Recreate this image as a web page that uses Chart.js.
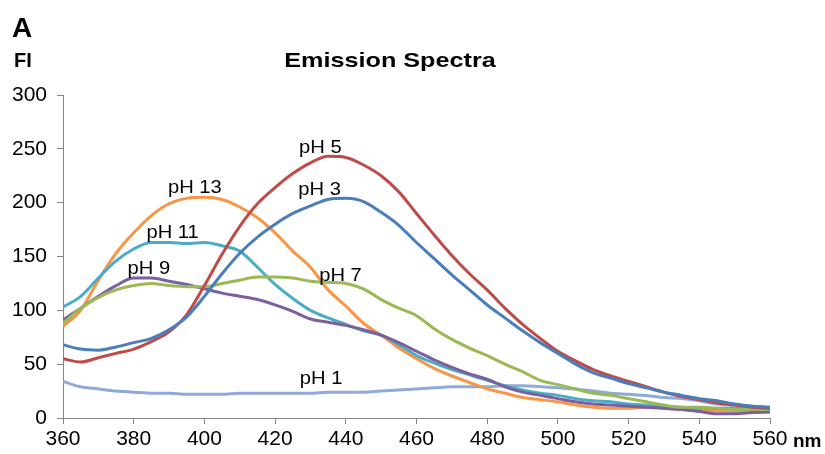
<!DOCTYPE html>
<html>
<head>
<meta charset="utf-8">
<script src="https://cdn.jsdelivr.net/npm/chart.js@4.4.0/dist/chart.umd.min.js"></script>
<style>
  html, body { margin: 0; padding: 0; background: #fff; }
  #wrap { width: 825px; height: 454px; position: relative; }
</style>
</head>
<body>
<div id="wrap"><canvas id="chart" width="825" height="454"></canvas></div>
<script>
// wavelengths (nm), every 5 nm
const wavelengths = [360, 365, 370, 375, 380, 385, 390, 395, 400, 405, 410, 415, 420, 425, 430, 435, 440, 445, 450, 455, 460,
  465, 470, 475, 480, 485, 490, 495, 500, 505, 510, 515, 520, 525, 530, 535, 540, 545, 550, 555, 560];

const ph3 = [68, 64, 63, 66, 70, 74, 82, 94, 113, 134, 153, 168, 180, 190, 197, 203, 204, 201, 191, 179, 163,
  148, 133, 119, 105, 93, 81, 70, 60, 50, 42, 37, 32, 28, 24, 21, 18, 16, 13, 11, 10];
const ph5 = [55, 52, 56, 60, 64, 71, 80, 96, 123, 152, 178, 199, 214, 227, 237, 243, 242, 235, 225, 210, 190,
  170, 151, 134, 119, 102, 87, 74, 62, 53, 45, 39, 34, 29, 24, 20, 17, 14, 12, 10, 9];
const ph7 = [88, 102, 112, 119, 123, 125, 123, 122, 122, 125, 128, 131, 131, 130, 127, 126, 125, 120, 110, 102, 95,
  83, 73, 65, 58, 50, 43, 35, 31, 27, 23, 21, 18, 15, 12, 10, 10, 9, 8, 8, 8];
const ph9 = [91, 102, 113, 123, 130, 130, 127, 124, 120, 116, 113, 110, 105, 99, 92, 89, 86, 82, 77, 70, 62,
  54, 47, 41, 36, 29, 24, 21, 18, 15, 13, 12, 11, 10, 9, 8, 6, 4, 4, 5, 6];
const ph11 = [103, 113, 130, 146, 157, 163, 163, 162, 163, 160, 155, 140, 124, 111, 100, 93, 87, 81, 77, 68, 58,
  51, 45, 40, 35, 30, 26, 23, 21, 18, 16, 15, 13, 12, 11, 10, 9, 9, 9, 9, 9];
const ph13 = [85, 100, 128, 153, 172, 188, 199, 204, 205, 203, 196, 186, 172, 155, 140, 119, 104, 88, 77, 65, 55,
  46, 39, 33, 27, 23, 19, 17, 15, 12, 10, 9, 9, 10, 9, 8, 7, 7, 6, 5, 5];
const ph1 = [34, 29, 27, 25, 24, 23, 23, 22, 22, 22, 23, 23, 23, 23, 23, 24, 24, 24, 25, 26, 27,
  28, 29, 29, 29, 30, 30, 29, 28, 27, 25, 23, 22, 21, 19, 18, 16, 13, 12, 11, 10];

const yTicks = [0, 50, 100, 150, 200, 250, 300];
const xTicks = [360, 380, 400, 420, 440, 460, 480, 500, 520, 540, 560];

// label text and where it sits (data units)
const labels = ["pH 5", "pH 3", "pH 13", "pH 11", "pH 9", "pH 7", "pH 1"];
const labelNm = [432.8, 432.6, 397.3, 391, 384.3, 438.5, 433];
const labelFI = [251, 212, 214, 172, 138, 132, 36];

function toPoints(arr) {
  return arr.map((v, i) => ({ x: wavelengths[i], y: v }));
}

function line(label, arr, color) {
  return {
    label: label,
    data: toPoints(arr),
    borderColor: color,
    backgroundColor: color,
    borderWidth: 3,
    pointRadius: 0,
    tension: 0.4,
    cubicInterpolationMode: "monotone",
  };
}

const textPlugin = {
  id: "texts",
  afterDatasetsDraw(chart) {
    const ctx = chart.ctx;
    const xs = chart.scales.x;
    const ys = chart.scales.y;
    ctx.save();
    ctx.fillStyle = "#000";
    ctx.textBaseline = "middle";
    ctx.textAlign = "center";
    ctx.font = "18px 'Liberation Sans', Arial, sans-serif";
    labels.forEach((t, i) => {
      const px = xs.getPixelForValue(labelNm[i]);
      const py = ys.getPixelForValue(labelFI[i]);
      ctx.save();
      ctx.translate(px, py);
      ctx.scale(1.12, 1);
      ctx.fillText(t, 0, 0);
      ctx.restore();
    });

    // panel letter, axis names, title
    ctx.textAlign = "left";
    ctx.textBaseline = "alphabetic";
    ctx.font = "bold 28px 'Liberation Sans', Arial, sans-serif";
    ctx.fillText("A", 12, 37);
    ctx.font = "bold 20px 'Liberation Sans', Arial, sans-serif";
    ctx.fillText("FI", 14, 67);
    ctx.font = "bold 19px 'Liberation Sans', Arial, sans-serif";
    ctx.fillText("nm", 793, 447);
    ctx.save();
    ctx.translate(390, 67);
    ctx.scale(1.2, 1);
    ctx.textAlign = "center";
    ctx.font = "bold 21px 'Liberation Sans', Arial, sans-serif";
    ctx.fillText("Emission Spectra", 0, 0);
    ctx.restore();
    ctx.restore();
  },
};

const axisColor = "#868686";
const tickFont = { family: "'Liberation Sans', Arial, sans-serif", size: 21 };

const config = {
  type: "line",
  data: {
    datasets: [
      line("pH 3", ph3, "#4a7ebb"),
      line("pH 5", ph5, "#be4b48"),
      line("pH 7", ph7, "#98b954"),
      line("pH 9", ph9, "#7d5fa0"),
      line("pH 11", ph11, "#4bacc6"),
      line("pH 13", ph13, "#f79646"),
      line("pH 1", ph1, "#8eabd8"),
    ],
  },
  options: {
    responsive: false,
    animation: false,
    layout: { padding: { left: 0, right: 55, top: 95, bottom: 0 } },
    plugins: { legend: { display: false }, title: { display: false }, tooltip: { enabled: false } },
    scales: {
      x: {
        type: "linear",
        min: 360,
        max: 560,
        afterBuildTicks: (s) => { s.ticks = xTicks.map((v) => ({ value: v })); },
        afterFit: (s) => { s.height = 36; },
        border: { display: true, color: axisColor, width: 1 },
        grid: { drawOnChartArea: false, drawTicks: true, tickLength: 6, color: axisColor },
        ticks: { color: "#000", font: tickFont, padding: 3, maxRotation: 0 },
      },
      y: {
        min: 0,
        max: 300,
        afterBuildTicks: (s) => { s.ticks = yTicks.map((v) => ({ value: v })); },
        afterFit: (s) => { s.width = 63; },
        border: { display: true, color: axisColor, width: 1 },
        grid: { drawOnChartArea: false, drawTicks: true, tickLength: 6, color: axisColor },
        ticks: { color: "#000", font: tickFont, padding: 10 },
      },
    },
  },
  plugins: [textPlugin],
};

new Chart(document.getElementById("chart").getContext("2d"), config);
</script>
</body>
</html>
